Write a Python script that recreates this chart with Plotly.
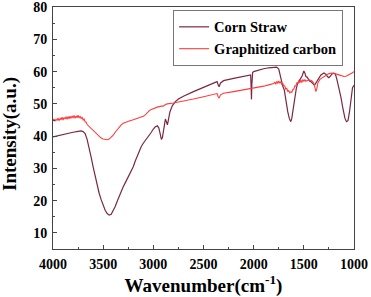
import plotly.graph_objects as go

corn_wn = [4000, 3950, 3900, 3850, 3800, 3750, 3720, 3700, 3680, 3660, 3640, 3620, 3600, 3580, 3560,
           3540, 3520, 3500, 3480, 3460, 3440, 3420, 3400, 3380, 3360, 3340, 3320, 3300, 3280, 3260,
           3240, 3220, 3200, 3180, 3160, 3140, 3120, 3100, 3080, 3060, 3040, 3020, 3000, 2980, 2960,
           2945, 2930, 2920, 2910, 2895, 2880, 2870, 2860, 2850, 2835, 2810, 2780, 2750, 2700, 2600,
           2500, 2400, 2365, 2355, 2345, 2330, 2300, 2200, 2100, 2040, 2030, 2025, 2022, 2018, 2010,
           2000, 1950, 1900, 1850, 1800, 1770, 1750, 1730, 1710, 1695, 1680, 1660, 1645, 1630, 1620,
           1605, 1590, 1575, 1560, 1545, 1530, 1515, 1500, 1490, 1480, 1470, 1455, 1440, 1425, 1410,
           1395, 1385, 1370, 1350, 1330, 1300, 1280, 1265, 1250, 1235, 1220, 1200, 1185, 1170, 1150,
           1130, 1110, 1090, 1075, 1060, 1045, 1030, 1015, 1000]
corn_val = [39.8, 40.2, 40.5, 40.9, 41.2, 41.5, 41.6, 41.4, 40.8, 39.0, 36.5, 33.5, 30.5, 27.5, 24.8,
            22.3, 20.3, 18.5, 17.0, 16.0, 15.5, 15.8, 16.8, 18.2, 19.8, 21.5, 23.0, 24.3, 25.5, 26.8,
            27.8, 29.0, 30.5, 32.3, 34.0, 35.5, 36.8, 37.8, 38.6, 39.3, 40.2, 41.2, 42.2, 42.9, 43.2,
            42.5, 40.5, 39.0, 39.5, 43.0, 45.3, 44.5, 43.5, 45.0, 47.5, 49.5, 50.7, 51.5, 52.4, 53.8,
            55.2, 56.4, 56.9, 56.0, 55.3, 56.5, 57.2, 57.9, 58.5, 58.9, 59.0, 55.0, 51.4, 56.0, 59.7,
            60.0, 60.5, 60.9, 61.2, 61.4, 61.4, 60.8, 58.0, 55.5, 54.3, 51.0, 47.5, 45.5, 44.5, 45.5,
            49.0, 52.5, 54.8, 56.5, 57.5, 58.0, 58.8, 60.2, 59.6, 58.5, 58.4, 57.5, 57.0, 56.8, 56.4,
            55.8, 56.2, 57.0, 58.0, 59.0, 59.6, 59.2, 58.5, 58.1, 58.6, 59.3, 59.5, 59.2, 57.5, 55.0,
            52.0, 48.5, 45.5, 44.5, 44.8, 47.5, 52.0, 55.0, 55.8]

gc_wn = [4000, 3990, 3980, 3970, 3960, 3950, 3940, 3930, 3920, 3910, 3900, 3890, 3880, 3870, 3860,
         3850, 3840, 3830, 3820, 3810, 3800, 3790, 3780, 3770, 3760, 3750, 3740, 3730, 3720, 3710,
         3700, 3690, 3680, 3670, 3660, 3640, 3620, 3600, 3580, 3560, 3540, 3520, 3500, 3480, 3460,
         3440, 3420, 3400, 3380, 3360, 3340, 3320, 3300, 3280, 3260, 3240, 3200, 3150, 3100, 3080,
         3060, 3040, 3020, 3000, 2960, 2920, 2900, 2880, 2860, 2800, 2700, 2600, 2500, 2400, 2365,
         2355, 2345, 2330, 2300, 2200, 2100, 2000, 1950, 1900, 1850, 1800, 1790, 1780, 1770, 1760,
         1750, 1740, 1730, 1720, 1710, 1700, 1690, 1680, 1670, 1660, 1650, 1640, 1630, 1620, 1610,
         1600, 1590, 1580, 1570, 1560, 1550, 1540, 1530, 1520, 1510, 1500, 1490, 1480, 1460, 1440,
         1420, 1400, 1390, 1380, 1370, 1360, 1340, 1320, 1300, 1280, 1250, 1220, 1200, 1150, 1100,
         1080, 1050, 1020, 1000]
gc_val = [44.8, 45.3, 44.6, 45.2, 44.9, 45.6, 44.8, 45.5, 45.1, 45.9, 45.0, 45.8, 45.3, 46.0, 45.2,
          46.1, 45.4, 46.2, 45.5, 46.3, 45.6, 46.4, 45.5, 46.3, 45.7, 46.5, 45.6, 46.2, 45.5, 45.9,
          45.0, 45.3, 44.4, 44.4, 43.6, 43.0, 42.2, 41.6, 40.9, 40.3, 39.8, 39.4, 39.1, 39.0, 38.9,
          39.1, 39.6, 40.3, 41.2, 42.0, 42.8, 43.5, 44.0, 44.3, 44.5, 44.7, 45.1, 45.6, 46.2, 46.6,
          47.3, 47.9, 48.3, 48.6, 49.0, 49.3, 49.3, 49.8, 50.0, 50.3, 50.8, 51.5, 52.2, 53.0, 53.2,
          52.3, 51.8, 52.8, 53.3, 53.8, 54.3, 54.8, 55.1, 55.5, 55.9, 56.3, 56.8, 56.1, 57.0, 56.3,
          57.1, 56.4, 56.9, 56.0, 56.4, 55.5, 55.6, 54.6, 54.8, 53.9, 54.1, 53.4, 53.7, 53.6, 54.4,
          54.6, 55.6, 55.5, 56.6, 56.2, 57.2, 56.5, 57.4, 56.6, 57.6, 56.9, 57.6, 57.0, 57.3, 57.4,
          57.2, 56.3, 55.2, 53.8, 54.8, 56.5, 57.6, 58.0, 58.6, 59.0, 59.4, 59.6, 59.5, 59.0, 58.5,
          58.6, 59.0, 59.6, 60.0]

x_ticks = [4000, 3500, 3000, 2500, 2000, 1500, 1000]
y_ticks = [10, 20, 30, 40, 50, 60, 70, 80]

FONT = "Liberation Serif"

fig = go.Figure()
fig.add_trace(go.Scatter(x=corn_wn, y=corn_val, mode="lines", name="Corn Straw",
                         line=dict(color="#7b2744", width=1.2)))
fig.add_trace(go.Scatter(x=gc_wn, y=gc_val, mode="lines", name="Graphitized carbon",
                         line=dict(color="#ff3d3d", width=1.1)))

axis_common = dict(showgrid=False, zeroline=False, showline=True, linecolor="#444",
                   linewidth=1, mirror=True, ticks="inside", ticklen=4, tickcolor="#444",
                   automargin=False,
                   tickfont=dict(family=FONT, size=14, color="black", weight="bold"))

fig.update_layout(
    width=371, height=297,
    margin=dict(l=53, r=17, t=7, b=48, autoexpand=False),
    paper_bgcolor="white", plot_bgcolor="white",
    showlegend=True,
    legend=dict(x=0.399, y=0.988, xanchor="left", yanchor="top",
                bordercolor="#777", borderwidth=1, bgcolor="white",
                font=dict(family=FONT, size=14.5, color="black", weight="bold"),
                itemwidth=30, tracegroupgap=0),
    xaxis=dict(range=[4000, 1000], tickvals=x_ticks, ticklabelstandoff=2,
               minor=dict(dtick=250, ticks="inside", ticklen=2, tickcolor="#444"),
               title=dict(text="Wavenumber(cm<sup>-1</sup>)", standoff=7,
                          font=dict(family=FONT, size=19, color="black", weight="bold")),
               **axis_common),
    yaxis=dict(range=[5, 80.05], tickvals=y_ticks, ticklabelstandoff=2,
               minor=dict(dtick=5, ticks="inside", ticklen=2, tickcolor="#444"),
               **axis_common),
    annotations=[dict(text="Intensity(a.u.)", textangle=-90, showarrow=False,
                      xref="paper", yref="paper", x=-0.143, y=0.475,
                      xanchor="center", yanchor="middle",
                      font=dict(family=FONT, size=19, color="black", weight="bold"))],
)

fig.write_html("out.html", config={"displayModeBar": False},
               post_script="document.body.style.margin='0';document.body.style.overflow='hidden';")
